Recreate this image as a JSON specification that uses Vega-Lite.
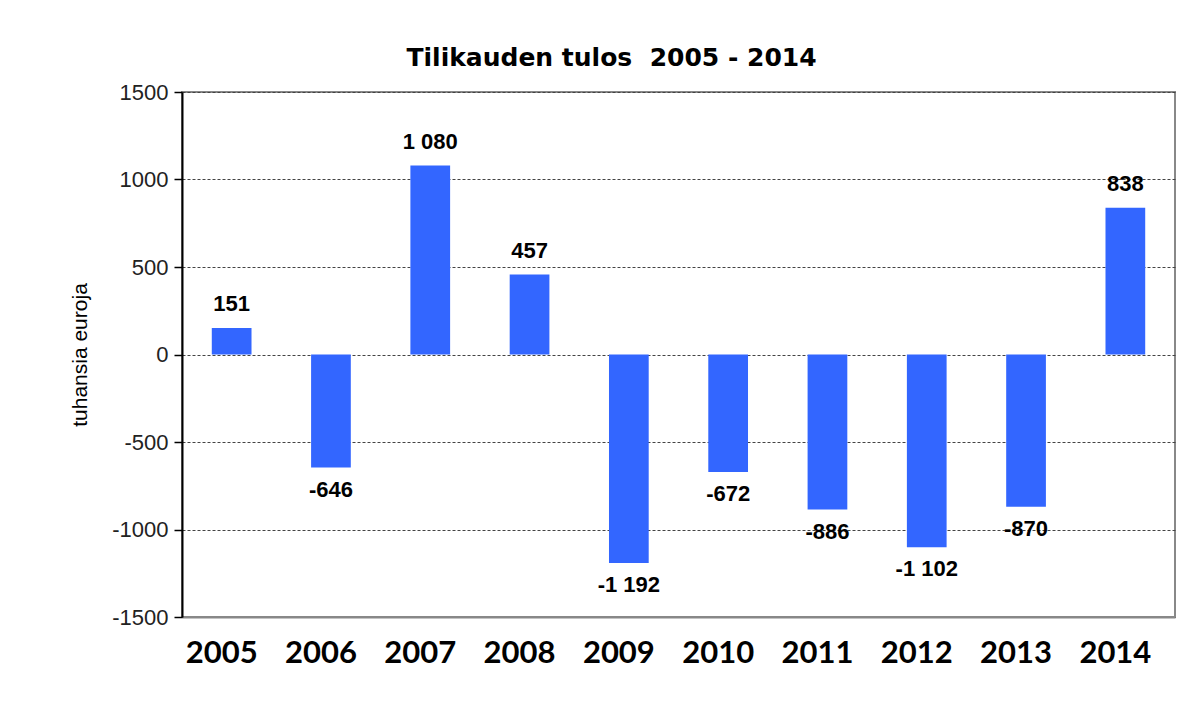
{
  "$schema": "https://vega.github.io/schema/vega-lite/v6.json",
  "width": 993,
  "height": 525,
  "autosize": {"type": "none"},
  "padding": {"left": 182, "top": 92, "right": 23, "bottom": 94},
  "background": "white",
  "title": {
    "text": "Tilikauden tulos\u00a0\u00a02005 - 2014",
    "font": "DejaVu Sans",
    "fontSize": 25,
    "fontWeight": "bold",
    "color": "#000000",
    "anchor": "middle",
    "dx": -67,
    "offset": 10
  },
  "data": {
    "values": [
      {"year": "2005", "value": 151, "label": "151"},
      {"year": "2006", "value": -646, "label": "-646"},
      {"year": "2007", "value": 1080, "label": "1 080"},
      {"year": "2008", "value": 457, "label": "457"},
      {"year": "2009", "value": -1192, "label": "-1 192"},
      {"year": "2010", "value": -672, "label": "-672"},
      {"year": "2011", "value": -886, "label": "-886"},
      {"year": "2012", "value": -1102, "label": "-1 102"},
      {"year": "2013", "value": -870, "label": "-870"},
      {"year": "2014", "value": 838, "label": "838"}
    ]
  },
  "encoding": {
    "x": {
      "field": "year",
      "type": "nominal",
      "sort": null,
      "scale": {"paddingInner": 0.6, "paddingOuter": 0.3},
      "axis": {
        "title": null,
        "labelAngle": 0,
        "labelFont": "Lato",
        "labelFontSize": 31,
        "labelFontWeight": "bold",
        "labelColor": "#000000",
        "labelPadding": 21,
        "labelOffset": -10,
        "ticks": false,
        "domainColor": "#888888",
        "domainWidth": 2
      }
    },
    "y": {
      "field": "value",
      "type": "quantitative",
      "scale": {"domain": [-1500, 1500], "nice": false},
      "axis": {
        "title": "tuhansia euroja",
        "titleFont": "Liberation Sans",
        "titleFontSize": 21,
        "titleFontWeight": "normal",
        "titleColor": "#000000",
        "titlePadding": 21,
        "values": [-1500, -1000, -500, 0, 500, 1000, 1500],
        "labelExpr": "'' + datum.value",
        "labelFont": "Liberation Sans",
        "labelFontSize": 22,
        "labelColor": "#222222",
        "labelPadding": 6,
        "tickSize": 8,
        "tickColor": "#000000",
        "tickWidth": 1.5,
        "domainColor": "#000000",
        "domainWidth": 2,
        "grid": true,
        "gridColor": "#444444",
        "gridDash": [3, 2],
        "gridWidth": 1
      }
    }
  },
  "layer": [
    {
      "mark": {"type": "bar", "color": "#3366FF"}
    },
    {
      "transform": [{"filter": "datum.value >= 0"}],
      "mark": {"type": "text", "baseline": "bottom", "dy": -12, "font": "Liberation Sans", "fontSize": 22, "fontWeight": "bold", "color": "#000000"},
      "encoding": {"text": {"field": "label"}}
    },
    {
      "transform": [{"filter": "datum.value < 0"}],
      "mark": {"type": "text", "baseline": "top", "dy": 12, "font": "Liberation Sans", "fontSize": 22, "fontWeight": "bold", "color": "#000000"},
      "encoding": {"text": {"field": "label"}}
    }
  ],
  "config": {
    "view": {"stroke": "#888888", "strokeWidth": 2}
  }
}
